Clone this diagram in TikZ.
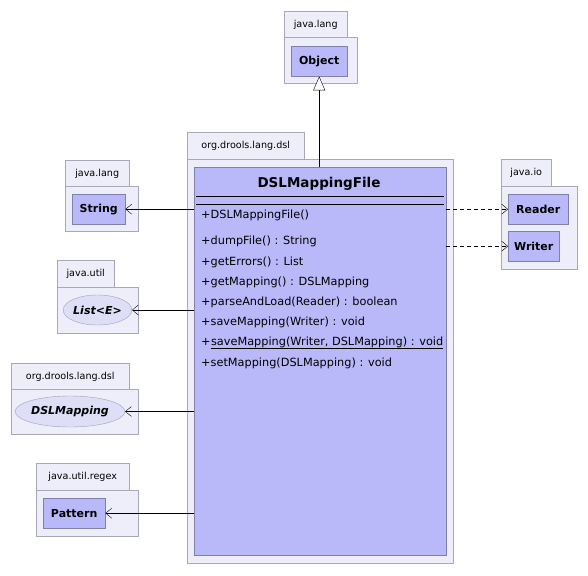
\documentclass[tikz,border=0pt]{standalone}
\usepackage{fontspec}
\setmainfont{DejaVu Sans}
\usepackage{tikz}
\usetikzlibrary{shapes.geometric,arrows.meta,positioning}

\definecolor{pkgfill}{RGB}{238,238,250}
\definecolor{pkgline}{RGB}{168,168,184}
\definecolor{clsfill}{RGB}{185,185,250}
\definecolor{clsline}{RGB}{128,128,172}
\definecolor{iffill}{RGB}{222,222,246}
\definecolor{ifline}{RGB}{160,160,180}

\tikzset{
  pkgtab/.style={draw=pkgline,fill=pkgfill,anchor=north west,minimum height=27,
    inner sep=0pt,font=\fontsize{9.6}{11}\selectfont},
  pkgbody/.style={draw=pkgline,fill=pkgfill,anchor=north west,inner sep=0pt},
  clsbox/.style={draw=clsline,fill=clsfill,anchor=north west,inner sep=0pt,
    font=\fontsize{11}{13}\selectfont\bfseries},
  ifbox/.style={ellipse,draw=ifline,fill=iffill,inner sep=0pt,
    font=\fontsize{11}{13}\selectfont\bfseries\itshape},
  meth/.style={anchor=west,inner sep=0pt,font=\fontsize{11.3}{13}\selectfont},
  uses/.style={draw,thin,-{Straight Barb[length=6pt,width=10pt]}},
  depend/.style={uses,dash pattern=on 4pt off 3pt},
  inherit/.style={draw,thin,-{Triangle[open,length=14pt,width=12pt,fill=white]}}
}

\begin{document}
\begin{tikzpicture}[x=1pt,y=-1pt]
  \useasboundingbox (0,0) rectangle (588,575);

  % superclass
  \node[pkgtab,minimum width=63] (objtab) at (284,11) {java.lang};
  \node[pkgbody,minimum width=73,minimum height=46] (objpkg) at (284,37) {};
  \node[clsbox,minimum width=56,minimum height=30] (obj) at (291,46) {Object};

  % package of the class itself
  \node[pkgtab,minimum width=117] (dsltab) at (187,132) {org.drools.lang.dsl};
  \node[pkgbody,minimum width=266,minimum height=404] (dslpkg) at (187,159) {};
  \node[clsbox,minimum width=252,minimum height=388] (dsl) at (194,167) {};
  \node[font=\fontsize{13.5}{15}\selectfont\bfseries] (dslname) at (319,184) {DSLMappingFile};
  \draw (196,196) -- (444,196);
  \draw (196,204) -- (444,204);

  % operations
  \node[meth] (m1) at (201,215) {+DSLMappingFile()};
  \node[meth] (m2) at (201,241) {+dumpFile() : String};
  \node[meth] (m3) at (201,262) {+getErrors() : List};
  \node[meth] (m4) at (201,282) {+getMapping() : DSLMapping};
  \node[meth] (m5) at (201,302) {+parseAndLoad(Reader) : boolean};
  \node[meth] (m6) at (201,322) {+saveMapping(Writer) : void};
  \node[meth] (m7) at (201,342) {+};
  \node[meth,right=0pt of m7] (m7s) {saveMapping(Writer, DSLMapping) : void};
  \draw ([yshift=-0.5]m7s.south west) -- ([yshift=-0.5]m7s.south east);
  \node[meth] (m8) at (201,363) {+setMapping(DSLMapping) : void};

  % left hand side
  \node[pkgtab,minimum width=64] (strtab) at (65,160) {java.lang};
  \node[pkgbody,minimum width=73,minimum height=45] (strpkg) at (65,186) {};
  \node[clsbox,minimum width=53,minimum height=30] (str) at (72,194) {String};

  \node[pkgtab,minimum width=57] (listtab) at (57,260) {java.util};
  \node[pkgbody,minimum width=81,minimum height=46] (listpkg) at (57,287) {};
  \node[ifbox,minimum width=65,minimum height=30] (lst) at (97.5,310) {List<E>};

  \node[pkgtab,minimum width=118] (maptab) at (11,363) {org.drools.lang.dsl};
  \node[pkgbody,minimum width=127,minimum height=45] (mappkg) at (11,389) {};
  \node[ifbox,minimum width=104,minimum height=31] (map) at (70,411.5) {DSLMapping};

  \node[pkgtab,minimum width=93] (pattab) at (36,463) {java.util.regex};
  \node[pkgbody,minimum width=102,minimum height=46] (patpkg) at (36,490) {};
  \node[clsbox,minimum width=62,minimum height=30] (pat) at (43,498) {Pattern};

  % right hand side
  \node[pkgtab,minimum width=50] (iotab) at (501,159) {java.io};
  \node[pkgbody,minimum width=76,minimum height=83] (iopkg) at (501,186) {};
  \node[clsbox,minimum width=60,minimum height=30] (rdr) at (508,194) {Reader};
  \node[clsbox,minimum width=51,minimum height=30] (wrt) at (508,231) {Writer};

  % connectors
  \draw[inherit] (dsl.north -| obj.south) -- (obj.south);
  \draw[uses] (dsl.west |- str.east) -- (str.east);
  \draw[uses] (dsl.west |- lst.east) -- (lst.east);
  \draw[uses] (dsl.west |- map.east) -- (map.east);
  \draw[uses] (dsl.west |- pat.east) -- (pat.east);
  \draw[depend] (dsl.east |- rdr.west) -- (rdr.west);
  \draw[depend] (dsl.east |- wrt.west) -- (wrt.west);
\end{tikzpicture}
\end{document}
